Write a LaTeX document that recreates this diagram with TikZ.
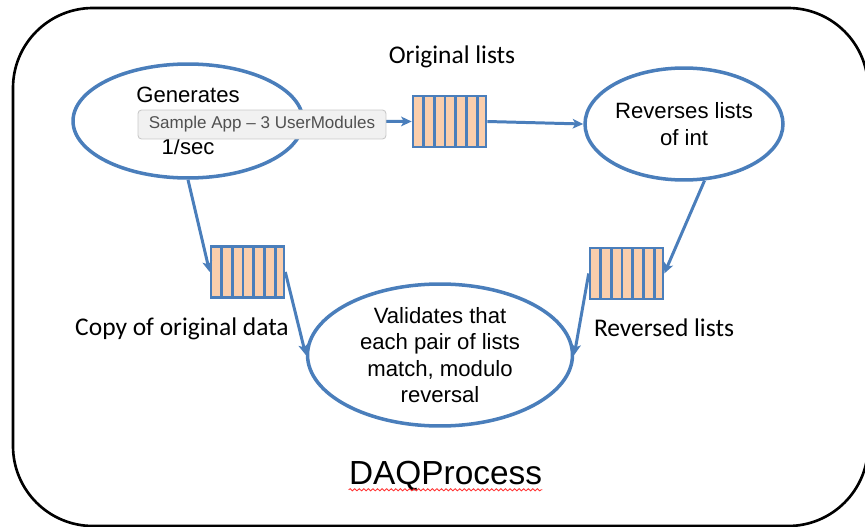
\documentclass[tikz,border=0pt]{standalone}
\usepackage{fontspec}
\setmainfont{Liberation Sans}
\newfontfamily\labelfont{Carlito}
\usepackage{tikz}
\usetikzlibrary{shapes.geometric, arrows.meta, decorations.pathmorphing}

\definecolor{daqblue}{RGB}{74,126,187}
\definecolor{daqpeach}{RGB}{250,206,172}
\definecolor{tipgray}{RGB}{200,200,200}
\definecolor{tipfill}{RGB}{241,241,241}
\definecolor{tiptext}{RGB}{80,80,80}

\begin{document}
\begin{tikzpicture}[
        x=0.02cm, y=-0.02cm,
        module/.style={ellipse, draw=daqblue, line width=2pt, inner xsep=0pt, inner ysep=-6pt,
            align=center, font=\fontsize{12.6}{15}\selectfont},
        queue/.style={draw=daqblue, fill=daqpeach, line width=1.5pt, inner sep=0pt,
            minimum width=1.46cm, minimum height=1.02cm,
            path picture={
                \foreach \k in {1,...,6} {
                    \draw[daqblue, line width=1.5pt]
                        ([xshift=\k*0.214cm]path picture bounding box.south west) --
                        ([xshift=\k*0.214cm]path picture bounding box.north west);
                }
            }},
        flow/.style={draw=daqblue, line width=1.7pt, -{Stealth[length=6pt, width=5.5pt, inset=1.5pt]}},
        caption/.style={font=\labelfont\fontsize{14.5}{17}\selectfont},
        tooltip/.style={draw=tipgray, fill=tipfill, line width=0.5pt, rounded corners=2pt,
            text=tiptext, minimum width=4.96cm, minimum height=0.58cm, inner sep=0pt,
            font=\fontsize{9.7}{11}\selectfont}
    ]

    \useasboundingbox (0,0) rectangle (865,527);

    % Process frame
    \draw[line width=1.5pt, rounded corners=1.6cm] (13,8) rectangle (868,526);

    % Modules
    \node[module, minimum width=4.6cm, minimum height=2.28cm] (gen) at (188,121) {Generates\\\mbox{}\\1/sec};
    \node[module, minimum width=3.96cm, minimum height=2.24cm] (rev) at (684,124) {Reverses lists\\of int};
    \node[module, minimum width=5.3cm, minimum height=2.84cm] (val) at (440,355)
        {Validates that\\each pair of lists\\match, modulo\\reversal};

    % Queues
    \node[queue] (qorig) at (449.5,121.5) {};
    \node[queue] (qcopy) at (247.5,272) {};
    \node[queue] (qrev) at (626.5,273.5) {};

    % Connections
    \draw[flow] (gen.east) -- (qorig.west);
    \draw[flow] (qorig.east) -- (rev.west);
    \draw[flow] (gen.south) -- (qcopy.west);
    \draw[flow] (qcopy.east) -- (val.west);
    \draw[flow] (rev.290) -- (qrev.east);
    \draw[flow] (qrev.west) -- (val.east);

    % Queue labels
    \node[caption] (lorig) at (452,57) {Original lists};
    \node[caption] (lcopy) at (182,329) {Copy of original data};
    \node[caption] (lrev) at (664,328) {Reversed lists};

    % Tooltip over the generator
    \node[tooltip] (tip) at (262,124.5) {Sample App -- 3 UserModules};

    % Process name
    \node[font=\fontsize{19}{22}\selectfont, inner sep=0pt] (daq) at (445.5,476) {DAQProcess};
    \draw[red!80, line width=0.5pt, decorate, decoration={snake, amplitude=0.6pt, segment length=2.6pt}]
        ([yshift=-3pt]daq.base west) -- ([yshift=-3pt]daq.base east);

\end{tikzpicture}
\end{document}
